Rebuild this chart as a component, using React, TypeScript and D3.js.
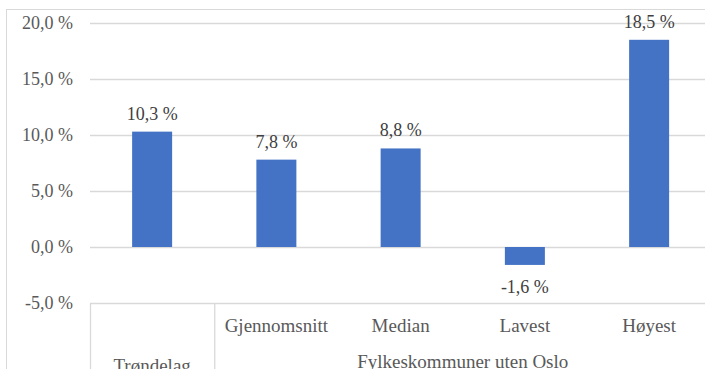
import React from "react";
import * as d3 from "d3";

const categories = ["Trøndelag", "Gjennomsnitt", "Median", "Lavest", "Høyest"];
const groupLabels = ["Trøndelag", "Fylkeskommuner uten Oslo"];
const values = [10.3, 7.8, 8.8, -1.6, 18.5];
const yTicks = [-5, 0, 5, 10, 15, 20];

const fmt = (v: number) => v.toFixed(1).replace(".", ",") + " %";

export default function App() {
  const W = 705, H = 369;
  const x = d3.scaleBand<string>().domain(categories).range([90, 711.25]).padding(0);
  const y = d3.scaleLinear().domain([-5, 20]).range([303, 23]);
  const bw = 40;
  const ff = { fontFamily: '"Liberation Serif"' };
  const grid = "#d9d9d9";
  const text = "#595959";
  const bx = x.bandwidth();
  const groupX0 = x(categories[1])!;
  const groupX1 = x(categories[4])! + bx;
  const fs = 18;
  const fc = 19;
  return (
    <svg width={W} height={H} style={{ position: "absolute", left: 0, top: 0, background: "#fff" }}>
      <rect x={6.5} y={9.5} width={W + 10} height={H + 10} fill="#fff" stroke={grid} />
      {yTicks.map(t => (
        <g key={t}>
          <line x1={90} x2={W + 10} y1={Math.round(y(t)) + 0.5} y2={Math.round(y(t)) + 0.5} stroke={grid} strokeWidth={1.3} />
          <text x={73} y={y(t)} dy="0.35em" textAnchor="end" fontSize={fs} fill={text} style={ff}>{fmt(t)}</text>
        </g>
      ))}
      {[90, groupX0].map((sx, i) => (
        <line key={i} x1={sx + 0.5} x2={sx + 0.5} y1={303} y2={H + 5} stroke={grid} strokeWidth={1.3} />
      ))}
      {categories.map((c, i) => {
        const v = values[i];
        const cx = x(c)! + bx / 2;
        const y0 = y(0), y1 = y(v);
        return (
          <g key={c}>
            <rect x={cx - bw / 2} y={Math.min(y0, y1)} width={bw} height={Math.abs(y1 - y0)} fill="#4472c4" />
            <text x={cx} y={v >= 0 ? y1 - 12 : y1 + 28} textAnchor="middle" fontSize={fs} fill="#404040" style={ff}>{fmt(v)}</text>
            {i > 0 && (
              <text x={cx} y={332} textAnchor="middle" fontSize={fc} fill={text} style={ff}>{c}</text>
            )}
          </g>
        );
      })}
      <text x={x(categories[0])! + bx / 2} y={372} textAnchor="middle" fontSize={fc} fill={text} style={ff}>{groupLabels[0]}</text>
      <text x={(groupX0 + groupX1) / 2} y={368} textAnchor="middle" fontSize={fc} fill={text} style={ff}>{groupLabels[1]}</text>
    </svg>
  );
}
